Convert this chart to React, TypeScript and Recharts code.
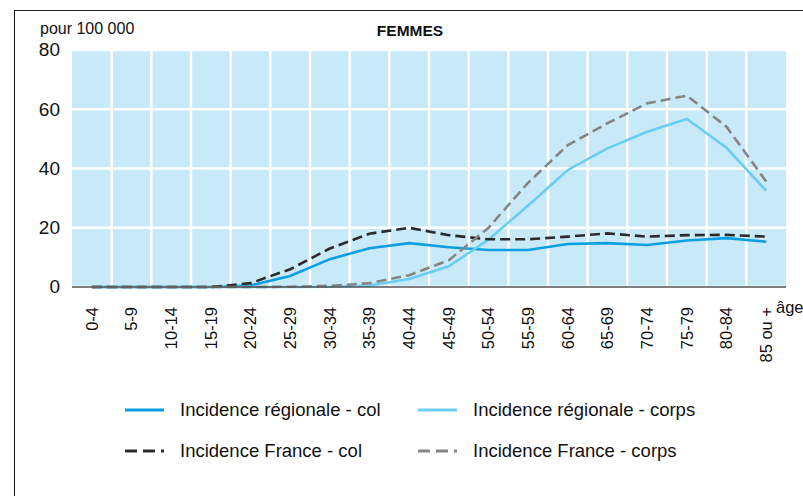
import { LineChart, Line, XAxis, YAxis, CartesianGrid, Legend } from 'recharts'

const FONT = '"Liberation Sans", Arial, Helvetica, sans-serif'

const AGES = ['0-4', '5-9', '10-14', '15-19', '20-24', '25-29', '30-34', '35-39', '40-44', '45-49', '50-54', '55-59', '60-64', '65-69', '70-74', '75-79', '80-84', '85 ou +']
const REG_COL = [0, 0, 0, 0, 0.5, 3.7, 9.4, 13.1, 14.8, 13.4, 12.5, 12.5, 14.5, 14.8, 14.2, 15.7, 16.5, 15.3]
const REG_CORPS = [0, 0, 0, 0, 0, 0, 0.1, 0.5, 2.7, 7, 16, 27.5, 39.5, 46.8, 52.4, 56.7, 47, 32.5]
const FR_COL = [0, 0, 0, 0, 1.3, 6, 13, 18, 20, 17.5, 16.1, 16.1, 17, 18.1, 17, 17.5, 17.6, 17]
const FR_CORPS = [0, 0, 0, 0, 0, 0.1, 0.4, 1.3, 4, 9, 20, 35.2, 47.9, 55.3, 62, 64.6, 54.1, 35.6]
const Y_TICKS = [0, 20, 40, 60, 80]

const data = AGES.map((age, i) => ({
  age,
  regCol: REG_COL[i],
  regCorps: REG_CORPS[i],
  frCol: FR_COL[i],
  frCorps: FR_CORPS[i],
}))

const series = [
  { key: 'regCol', name: 'Incidence régionale - col', color: '#0a9fe2', dash: undefined },
  { key: 'regCorps', name: 'Incidence régionale - corps', color: '#6ccdf4', dash: undefined },
  { key: 'frCol', name: 'Incidence France - col', color: '#2b2b2b', dash: '10 5' },
  { key: 'frCorps', name: 'Incidence France - corps', color: '#858585', dash: '10 5' },
]

function AgeTick({ x, y, payload }: any) {
  return (
    <text
      transform={`translate(${x},${y + 12}) rotate(-90)`}
      textAnchor="end"
      dy="0.36em"
      fontSize={16.5}
      fontFamily={FONT}
      fill="#111"
    >
      {payload.value}
    </text>
  )
}

function ValueTick({ x, y, payload }: any) {
  return (
    <text x={x} y={y} dy="0.33em" textAnchor="end" fontSize={19} fontFamily={FONT} fill="#111">
      {payload.value}
    </text>
  )
}

function LegendBox() {
  const cell = (s: (typeof series)[number], i: number) => (
    <div key={s.key} style={{ position: 'absolute', left: i % 2 === 0 ? 125 : 418, top: i < 2 ? 0 : 41, display: 'flex', alignItems: 'center', height: 22 }}>
      <svg width={40} height={6} style={{ marginRight: 15 }}>
        <line x1={0} y1={3} x2={39} y2={3} stroke={s.color} strokeWidth={3} strokeDasharray={s.dash ? '12 6' : undefined} />
      </svg>
      <span style={{ fontSize: 18.5, fontFamily: FONT, color: '#111', whiteSpace: 'nowrap' }}>{s.name}</span>
    </div>
  )
  return <div style={{ position: 'relative', width: 803, height: 70 }}>{series.map(cell)}</div>
}

export default function App() {
  return (
    <div style={{ position: 'absolute', left: 0, top: 0, width: 803, height: 496, background: '#fff', overflow: 'hidden' }}>
      <div style={{ position: 'absolute', left: 14, top: 10, width: 800, height: 500, borderLeft: '1.5px solid #111', borderTop: '1.5px solid #222' }} />
      <div style={{ position: 'absolute', left: 40, top: 20, fontSize: 16, fontFamily: FONT, color: '#111' }}>pour 100 000</div>
      <div style={{ position: 'absolute', left: 310, width: 200, textAlign: 'center', top: 22, fontSize: 15.5, fontWeight: 'bold', fontFamily: FONT, color: '#111' }}>FEMMES</div>
      <div style={{ position: 'absolute', left: 0, top: 0 }}>
        <LineChart width={803} height={496} data={data} margin={{ top: 50, right: 17, left: 0, bottom: 0 }}>
          <CartesianGrid
            fill="#c8e9f8"
            stroke="#ffffff"
            strokeWidth={2.5}
            strokeOpacity={1}
            verticalCoordinatesGenerator={({ offset }: any) =>
              AGES.slice(1).map((_, i) => offset.left + ((i + 1) * offset.width) / AGES.length)
            }
          />
          <XAxis
            dataKey="age"
            scale="band"
            interval={0}
            height={209}
            tickLine={false}
            axisLine={{ stroke: '#555', strokeWidth: 1.5 }}
            tick={<AgeTick />}
          />
          <YAxis
            width={72}
            domain={[0, 80]}
            ticks={Y_TICKS}
            axisLine={false}
            tickLine={false}
            tickMargin={6}
            tick={<ValueTick />}
          />
          <Legend
            layout="horizontal"
            verticalAlign="middle"
            wrapperStyle={{ position: 'absolute', top: 399, left: 0, width: 803 }}
            content={() => <LegendBox />}
          />
          {series.map((s) => (
            <Line
              key={s.key}
              type="linear"
              dataKey={s.key}
              name={s.name}
              stroke={s.color}
              strokeWidth={2.6}
              strokeDasharray={s.dash}
              dot={false}
              activeDot={false}
              isAnimationActive={false}
            />
          ))}
        </LineChart>
      </div>
      <div style={{ position: 'absolute', left: 776, top: 298, fontSize: 16.5, fontFamily: FONT, color: '#111' }}>âge</div>
    </div>
  )
}
